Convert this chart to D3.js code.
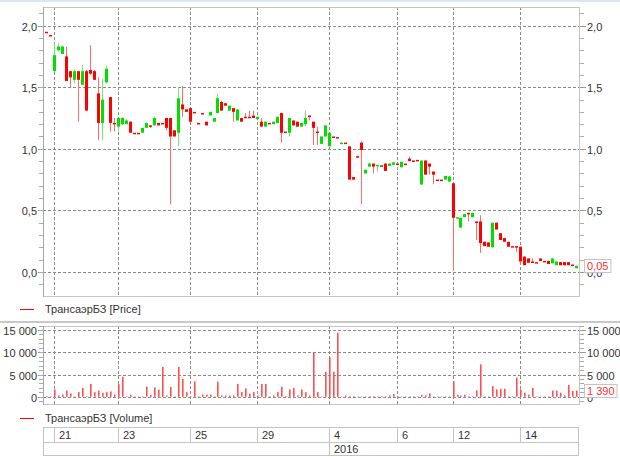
<!DOCTYPE html>
<html lang="ru">
  <head>
    <meta charset="utf-8" />
    <style>
      body { margin: 0; background: #fff; }
      text { font-family: "Liberation Sans", Arial, sans-serif; font-size: 11px; fill: #333; }
    </style>
    <script src="https://d3js.org/d3.v7.min.js"></script>
  </head>
  <body>
    <svg width="620" height="457"></svg>
    <script>
      // hourly candles, index 0..133
      const open = [1.95,1.924,1.63,1.80,1.77,1.75,1.63,1.56,1.63,1.52,1.63,1.64,1.63,1.45,1.21,1.54,1.42,1.21,1.18,1.20,1.20,1.22,1.13,1.13,1.13,1.17,1.19,1.19,1.21,1.21,
        1.25,1.25,1.15,1.13,1.36,1.32,1.33,1.30,1.21,1.29,1.22,1.27,1.22,1.29,1.38,1.37,1.31,1.33,1.23,1.25,1.26,1.26,1.27,1.24,1.22,1.18,1.21,1.20,1.21,1.29,
        1.14,1.13,1.23,1.22,1.18,1.20,1.27,1.22,1.14,1.04,1.10,1.02,1.10,1.095,1.048,1.05,1.02,0.77,0.94,1.05,0.80,0.855,0.88,0.86,0.866,0.88,0.86,0.87,0.88,0.85,
        0.88,0.92,0.905,0.91,0.71,0.905,0.88,0.815,0.75,0.75,0.75,0.735,0.72,0.443,0.36,0.445,0.48,0.445,0.41,0.41,0.245,0.24,0.20,0.40,0.315,0.275,0.245,0.21,0.21,0.205,
        0.125,0.11,0.085,0.08,0.11,0.09,0.09,0.07,0.055,0.08,0.08,0.08,0.06,0.03];
      const high = [1.95,1.924,1.86,1.86,1.84,1.83,1.63,1.64,1.63,1.68,1.64,1.84,1.64,1.58,1.57,1.67,1.42,1.25,1.26,1.26,1.24,1.22,1.13,1.13,1.17,1.21,1.19,1.26,1.21,1.21,
        1.25,1.25,1.15,1.50,1.51,1.32,1.33,1.30,1.21,1.29,1.22,1.30,1.25,1.45,1.39,1.37,1.35,1.33,1.32,1.25,1.29,1.31,1.31,1.26,1.25,1.22,1.21,1.22,1.26,1.29,
        1.14,1.25,1.23,1.22,1.21,1.31,1.27,1.22,1.18,1.10,1.19,1.13,1.10,1.095,1.05,1.05,1.02,0.77,0.945,1.06,0.83,0.89,0.88,0.87,0.866,0.88,0.88,0.89,0.88,0.895,
        0.88,0.935,0.905,0.91,0.905,0.905,0.88,0.815,0.75,0.75,0.78,0.78,0.72,0.445,0.44,0.47,0.48,0.48,0.41,0.46,0.245,0.24,0.40,0.40,0.315,0.275,0.245,0.21,0.21,0.205,
        0.125,0.11,0.11,0.08,0.11,0.09,0.09,0.11,0.085,0.08,0.08,0.08,0.06,0.05];
      const low = [1.95,1.924,1.62,1.79,1.77,1.55,1.50,1.53,1.22,1.52,1.31,1.60,1.56,1.07,1.07,1.53,1.14,1.14,1.14,1.19,1.20,1.13,1.13,1.13,1.13,1.17,1.17,1.19,1.19,1.21,
        1.15,0.55,1.10,1.02,1.26,1.30,1.21,1.30,1.21,1.29,1.19,1.27,1.22,1.29,1.31,1.35,1.31,1.22,1.23,1.22,1.26,1.26,1.25,1.24,1.18,1.18,1.21,1.20,1.21,1.05,
        1.14,1.10,1.19,1.18,1.18,1.18,1.23,1.03,1.03,1.04,1.10,1.02,1.10,1.095,1.048,1.05,0.75,0.75,0.93,0.55,0.80,0.855,0.80,0.815,0.866,0.82,0.86,0.87,0.88,0.85,
        0.88,0.90,0.905,0.91,0.71,0.79,0.79,0.715,0.75,0.75,0.75,0.73,0.01,0.443,0.36,0.445,0.41,0.445,0.26,0.155,0.21,0.205,0.20,0.345,0.26,0.245,0.205,0.21,0.165,0.085,
        0.055,0.075,0.075,0.08,0.09,0.09,0.065,0.07,0.055,0.055,0.055,0.055,0.045,0.03];
      const close = [1.95,1.924,1.76,1.83,1.83,1.55,1.58,1.63,1.56,1.63,1.31,1.61,1.56,1.21,1.40,1.65,1.21,1.20,1.25,1.25,1.23,1.13,1.13,1.13,1.17,1.21,1.19,1.25,1.19,1.21,
        1.17,1.10,1.10,1.41,1.32,1.30,1.22,1.30,1.21,1.29,1.19,1.30,1.25,1.41,1.31,1.35,1.35,1.30,1.32,1.22,1.26,1.26,1.25,1.26,1.18,1.22,1.21,1.22,1.26,1.13,
        1.14,1.25,1.19,1.18,1.21,1.25,1.27,1.17,1.14,1.10,1.19,1.13,1.10,1.095,1.05,1.05,0.75,0.75,0.94,0.99,0.83,0.88,0.855,0.87,0.866,0.82,0.88,0.89,0.88,0.895,
        0.88,0.90,0.905,0.91,0.905,0.79,0.855,0.79,0.75,0.75,0.78,0.775,0.44,0.445,0.44,0.47,0.48,0.48,0.41,0.235,0.21,0.205,0.40,0.345,0.26,0.245,0.205,0.21,0.21,0.085,
        0.055,0.075,0.085,0.08,0.09,0.09,0.065,0.11,0.085,0.055,0.055,0.055,0.06,0.05];
      const volume = [150,100,1650,300,500,1400,750,100,1050,2000,150,2900,1050,1400,900,1050,1200,500,2850,4500,100,450,100,100,100,2300,450,2100,1600,6700,
        300,2200,100,6700,4000,1050,100,3450,100,500,500,500,100,3400,300,300,300,300,2900,1050,1900,700,1050,300,2900,2900,100,300,1050,2250,
        150,1650,2000,300,1650,1050,300,10000,1050,100,5600,8850,5600,14400,100,300,150,150,100,100,100,150,150,150,150,100,300,600,100,100,
        100,100,100,100,450,300,750,100,100,100,100,100,3450,450,300,450,100,100,1400,7300,100,100,2400,1650,1800,1800,100,100,4300,1650,
        900,500,2000,100,100,100,100,1400,1400,900,300,2700,1300,1390];
      const dayIndex = [2, 18, 36, 53, 71, 88, 102, 119];
      const dayLabel = ["21", "23", "25", "29", "4", "6", "12", "14"];
      const yearIndex = [71];
      const yearLabel = ["2016"];
      const priceTicks = [0, 0.5, 1.0, 1.5, 2.0];
      const volumeTicks = [0, 5000, 10000, 15000];
      const seriesName = "ТрансаэрБЗ";

      const svg = d3.select("svg");
      const n = open.length;
      const left = 43, right = 580;
      const priceTop = 7, priceBottom = 296;
      const volTop = 326, volBottom = 404;

      const x = d3.scaleLinear().domain([-0.8, n]).range([left, right]);
      const yP = d3.scaleLinear().domain([-0.195, 2.151]).range([priceBottom, priceTop]);
      const yV = d3.scaleLinear().domain([-1620, 15900]).range([volBottom, volTop]);
      const px = (i) => Math.round(x(i));
      const commaFmt = (v) => d3.format(".1f")(v).replace(".", ",");
      const spaceFmt = (v) => d3.format(",")(v).replace(/,/g, " ");

      svg.append("rect").attr("width", 620).attr("height", 2).attr("fill", "#dde6ee");

      // panel separator
      svg.append("line").attr("x1", 0).attr("x2", 620).attr("y1", 322).attr("y2", 322)
        .attr("stroke", "#c8c8c8").attr("stroke-width", 2);

      function panel(y, top, bottom, ticks, minorStep, fmt) {
        const g = svg.append("g");
        // horizontal grid
        g.selectAll(".hg").data(ticks).enter().append("line")
          .attr("x1", left - 5).attr("x2", right)
          .attr("y1", (d) => Math.round(y(d)) + 0.5).attr("y2", (d) => Math.round(y(d)) + 0.5)
          .attr("stroke", "#8a8a8a").attr("stroke-dasharray", "3,2");
        // vertical grid
        g.selectAll(".vg").data(dayIndex).enter().append("line")
          .attr("x1", (d) => px(d) + 0.5).attr("x2", (d) => px(d) + 0.5)
          .attr("y1", top).attr("y2", bottom)
          .attr("stroke", "#8a8a8a").attr("stroke-dasharray", "3,2");
        // minor ticks
        const minor = d3.range(y.domain()[0], y.domain()[1], minorStep)
          .map((d) => Math.ceil(d / minorStep) * minorStep);
        minor.forEach(function (d) {
          const yy = Math.round(y(d)) + 0.5;
          if (yy < top || yy > bottom) return;
          g.append("line").attr("x1", left - 4).attr("x2", left).attr("y1", yy).attr("y2", yy).attr("stroke", "#aaa");
          g.append("line").attr("x1", right).attr("x2", right + 4).attr("y1", yy).attr("y2", yy).attr("stroke", "#aaa");
        });
        ticks.forEach(function (d) {
          const yy = Math.round(y(d)) + 0.5;
          g.append("line").attr("x1", right).attr("x2", right + 6).attr("y1", yy).attr("y2", yy).attr("stroke", "#999");
          g.append("text").attr("x", left - 6).attr("y", yy + 4).attr("text-anchor", "end").text(fmt(d));
          g.append("text").attr("x", right + 7).attr("y", yy + 4).text(fmt(d));
        });
        g.append("rect").attr("x", left + 0.5).attr("y", top + 0.5)
          .attr("width", right - left - 1).attr("height", bottom - top)
          .attr("fill", "none").attr("stroke", "#c4c4c4");
        g.append("line").attr("x1", left + 0.5).attr("x2", left + 0.5).attr("y1", top).attr("y2", bottom + 1).attr("stroke", "#a8a8a8");
        return g;
      }

      panel(yP, priceTop, priceBottom, priceTicks, 0.1, commaFmt);
      panel(yV, volTop, volBottom, volumeTicks, 1000, spaceFmt);

      // candles
      const idx = d3.range(n);
      const up = (i) => close[i] > open[i];
      const candles = svg.append("g");
      candles.selectAll(".wick").data(idx).enter().append("line")
        .attr("x1", (i) => px(i) + 0.5).attr("x2", (i) => px(i) + 0.5)
        .attr("y1", (i) => yP(high[i])).attr("y2", (i) => yP(low[i]))
        .attr("stroke", (i) => (up(i) ? "#70ee70" : "#ff6b6b"));
      candles.selectAll(".body").data(idx).enter().append("rect")
        .attr("x", (i) => px(i) - 1)
        .attr("width", 3)
        .attr("y", (i) => yP(Math.max(open[i], close[i])))
        .attr("height", (i) => Math.max(1.5, Math.abs(yP(open[i]) - yP(close[i]))))
        .attr("fill", (i) => (up(i) ? "#00e000" : "#ff0000"));

      // volume bars
      svg.append("g").selectAll("rect").data(idx).enter().append("rect")
        .attr("x", (i) => px(i))
        .attr("width", 1.6)
        .attr("y", (i) => yV(volume[i]))
        .attr("height", (i) => yV(0) - yV(volume[i]))
        .attr("fill", "#ff5050");

      // last value markers
      function lastBox(yy, label) {
        const g = svg.append("g");
        const t = g.append("text").attr("x", 587).attr("y", yy + 4).style("fill", "#ff3030").text(label);
        const w = t.node().getComputedTextLength();
        g.insert("rect", "text").attr("x", 584.5).attr("y", Math.round(yy) - 6.5)
          .attr("width", w + 5).attr("height", 13).attr("fill", "#fff").attr("stroke", "#c4c4c4");
      }
      lastBox(yP(close[n - 1]), d3.format(".2f")(close[n - 1]).replace(".", ","));
      lastBox(yV(volume[n - 1]), spaceFmt(volume[n - 1]));

      // legends
      function legend(yy, label) {
        svg.append("line").attr("x1", 20).attr("x2", 34).attr("y1", yy + 0.5).attr("y2", yy + 0.5).attr("stroke", "#ff0000");
        svg.append("text").attr("x", 45).attr("y", yy + 4).text(label);
      }
      legend(309, seriesName + " [Price]");
      legend(418, seriesName + " [Volume]");

      // date axis table
      const axis = svg.append("g").attr("stroke", "#c4c4c4").attr("fill", "none");
      axis.append("rect").attr("x", left + 0.5).attr("y", 427.5).attr("width", right - left - 2).attr("height", 28);
      axis.append("line").attr("x1", left).attr("x2", right - 1).attr("y1", 442.5).attr("y2", 442.5);
      dayIndex.forEach(function (d, k) {
        axis.append("line").attr("x1", px(d) + 0.5).attr("x2", px(d) + 0.5).attr("y1", 427).attr("y2", 442);
        svg.append("text").attr("x", px(d) + 5).attr("y", 439).text(dayLabel[k]);
      });
      yearIndex.forEach(function (d, k) {
        axis.append("line").attr("x1", px(d) + 0.5).attr("x2", px(d) + 0.5).attr("y1", 442).attr("y2", 456);
        svg.append("text").attr("x", px(d) + 5).attr("y", 453).text(yearLabel[k]);
      });
    </script>
  </body>
</html>
